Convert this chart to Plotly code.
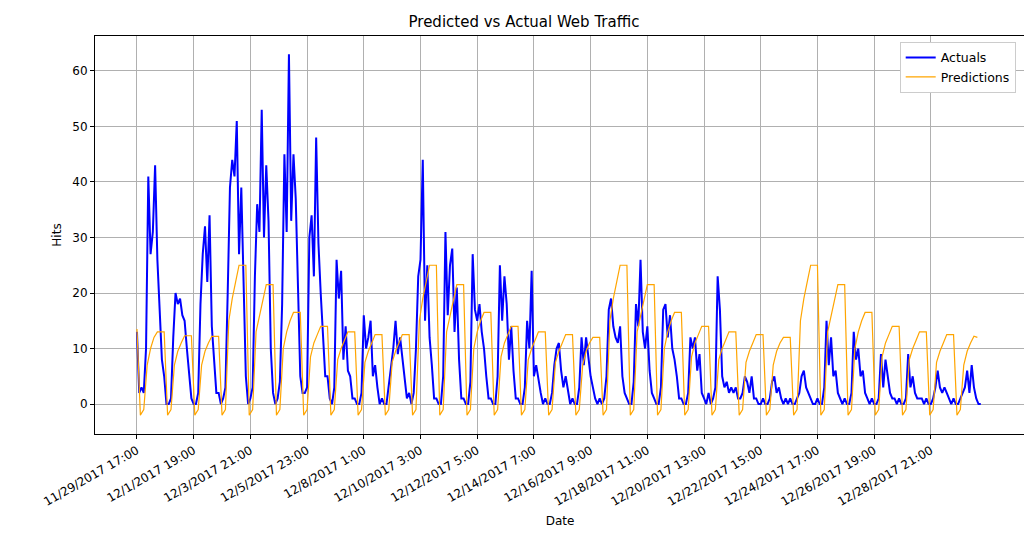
import plotly.graph_objects as go

# actual hits, sampled every 2 hours (12 values per day), starting 11/29/2017 17:00
actual_days = [
    [13, 2, 3, 2, 10, 41, 27, 31, 43, 26, 17, 8],
    [5, 0, 0, 1, 12, 20, 18, 19, 16, 15, 10, 5],
    [1, 0, 0, 2, 18, 27, 32, 22, 34, 14, 7, 2],
    [2, 0, 1, 3, 20, 39, 44, 41, 51, 27, 39, 20],
    [5, 0, 1, 3, 23, 36, 31, 53, 30, 43, 33, 10],
    [2, 0, 1, 4, 18, 45, 31, 63, 33, 45, 37, 21],
    [5, 2, 2, 3, 30, 34, 23, 48, 29, 20, 12, 5],
    [5, 1, 0, 3, 26, 19, 24, 8, 14, 6, 5, 1],
    [1, 0, 0, 2, 16, 10, 12, 15, 5, 7, 3, 0],
    [1, 0, 0, 3, 7, 10, 15, 9, 12, 8, 4, 1],
    [2, 0, 2, 10, 23, 26, 44, 15, 25, 12, 7, 1],
    [1, 0, 0, 5, 31, 16, 25, 28, 13, 21, 8, 1],
    [1, 0, 0, 4, 27, 17, 15, 18, 13, 10, 5, 1],
    [1, 0, 0, 5, 25, 15, 23, 18, 8, 14, 6, 1],
    [1, 0, 0, 3, 15, 10, 24, 5, 7, 4, 2, 0],
    [1, 0, 0, 2, 7, 10, 11, 6, 3, 5, 2, 0],
    [1, 0, 0, 3, 12, 7, 12, 9, 5, 3, 1, 0],
    [1, 0, 1, 5, 17, 19, 14, 12, 11, 14, 5, 2],
    [1, 0, 0, 4, 18, 14, 26, 13, 10, 14, 6, 2],
    [1, 0, 0, 3, 17, 18, 12, 16, 10, 8, 5, 1],
    [1, 0, 0, 2, 12, 10, 12, 6, 9, 2, 1, 0],
    [2, 0, 1, 3, 23, 17, 5, 3, 4, 2, 3, 2],
    [3, 1, 1, 2, 5, 4, 2, 5, 1, 1, 0, 0],
    [1, 0, 0, 1, 4, 5, 2, 3, 1, 0, 1, 0],
    [1, 0, 0, 1, 2, 5, 6, 3, 2, 1, 0, 0],
    [1, 0, 0, 3, 15, 7, 12, 5, 6, 2, 1, 0],
    [1, 0, 0, 2, 13, 8, 10, 5, 6, 2, 1, 0],
    [1, 0, 0, 1, 9, 3, 8, 5, 2, 1, 1, 0],
    [1, 0, 0, 1, 9, 3, 5, 2, 1, 1, 1, 0],
    [1, 0, 0, 1, 3, 6, 3, 2, 3, 2, 1, 0],
    [1, 0, 0, 1, 2, 3, 6, 2, 7, 3, 1, 0],
    [0],
]

# predicted hits, sampled every 3 hours (8 values per day)
pred_days = [
    [13.5, -2, -1, 7, 10, 12, 13, 13],
    [13, -2, -1, 7, 9.5, 11, 12.3, 12.3],
    [12.3, -2, -1, 7, 9.5, 11, 12.2, 12.2],
    [12.2, -2, -1, 15, 19, 22, 25, 25],
    [25, -2, -1, 13, 16, 19, 21.5, 21.5],
    [21.5, -2, -1, 10, 13, 15, 16.5, 16.5],
    [16.5, -2, -1, 8.5, 11, 12.5, 14, 14],
    [14, -2, -1, 8, 10, 11.5, 13, 13],
    [13, -2, -1, 7.5, 9.5, 11, 12.5, 12.5],
    [12.5, -2, -1, 7.5, 9.5, 11, 12.5, 12.5],
    [12.5, -2, -1, 15, 19, 22, 25, 25],
    [25, -2, -1, 13, 16, 19, 21.5, 21.5],
    [21.5, -2, -1, 10, 13, 15, 16.5, 16.5],
    [16.5, -2, -1, 8.5, 11, 12.5, 14, 14],
    [14, -2, -1, 8, 10, 11.5, 13, 13],
    [13, -2, -1, 7.5, 9.5, 11, 12.5, 12.5],
    [12.5, -2, -1, 7, 9.5, 11, 12, 12],
    [12, -2, -1, 15, 19, 22, 25, 25],
    [25, -2, -1, 13, 16, 19, 21.5, 21.5],
    [21.5, -2, -1, 10, 13, 15, 16.5, 16.5],
    [16.5, -2, -1, 8.5, 11, 12.5, 14, 14],
    [14, -2, -1, 8, 10, 11.5, 13, 13],
    [13, -2, -1, 7.5, 9.5, 11, 12.5, 12.5],
    [12.5, -2, -1, 7, 9.5, 11, 12, 12],
    [12, -2, -1, 15, 19, 22, 25, 25],
    [25, -2, -1, 13, 16, 19, 21.5, 21.5],
    [21.5, -2, -1, 10, 13, 15, 16.5, 16.5],
    [16.5, -2, -1, 8.5, 11, 12.5, 14, 14],
    [14, -2, -1, 8, 10, 11.5, 13, 13],
    [13, -2, -1, 7.5, 9.5, 11, 12.5, 12.5],
    [12.5, -2, -1, 7, 9.5, 11, 12.2, 12],
]

tick_hours = list(range(0, 701, 50))
tick_labels = [
    "11/29/2017 17:00", "12/1/2017 19:00", "12/3/2017 21:00", "12/5/2017 23:00",
    "12/8/2017 1:00", "12/10/2017 3:00", "12/12/2017 5:00", "12/14/2017 7:00",
    "12/16/2017 9:00", "12/18/2017 11:00", "12/20/2017 13:00", "12/22/2017 15:00",
    "12/24/2017 17:00", "12/26/2017 19:00", "12/28/2017 21:00",
]

actuals = [v for day in actual_days for v in day]
preds = [v for day in pred_days for v in day]
actual_x = [2 * i for i in range(len(actuals))]
pred_x = [3 * i for i in range(len(preds))]

fig = go.Figure()
fig.add_trace(go.Scatter(x=actual_x, y=actuals, mode="lines", name="Actuals",
                         line=dict(color="blue", width=2)))
fig.add_trace(go.Scatter(x=pred_x, y=preds, mode="lines", name="Predictions",
                         line=dict(color="orange", width=1.2)))

axis_common = dict(showline=True, linecolor="black", mirror=True, ticks="outside",
                   ticklen=4, tickcolor="black", showgrid=True, gridcolor="#b0b0b0",
                   gridwidth=1, zeroline=False, automargin=False,
                   tickfont=dict(size=12, color="black"))

fig.update_layout(
    width=1032, height=535,
    paper_bgcolor="white", plot_bgcolor="white",
    font=dict(family="DejaVu Sans", color="black"),
    margin=dict(l=87, r=15, t=28, b=109),
    title=dict(text="Predicted vs Actual Web Traffic", x=0.5, xanchor="center",
               y=0.985, yanchor="top", font=dict(size=15)),
    xaxis=dict(range=[-37, 783], tickvals=tick_hours, ticktext=tick_labels,
               tickangle=-30, title=dict(text="Date", font=dict(size=12), standoff=8),
               **axis_common),
    yaxis=dict(range=[-5.4, 66.3], tickvals=list(range(0, 61, 10)),
               title=dict(text="Hits", font=dict(size=12), standoff=8), **axis_common),
    legend=dict(x=0.99, y=0.985, xanchor="right", yanchor="top", bgcolor="white",
                bordercolor="#cccccc", borderwidth=1, font=dict(size=12.5)),
    showlegend=True,
)

fig.write_html("out.html")
